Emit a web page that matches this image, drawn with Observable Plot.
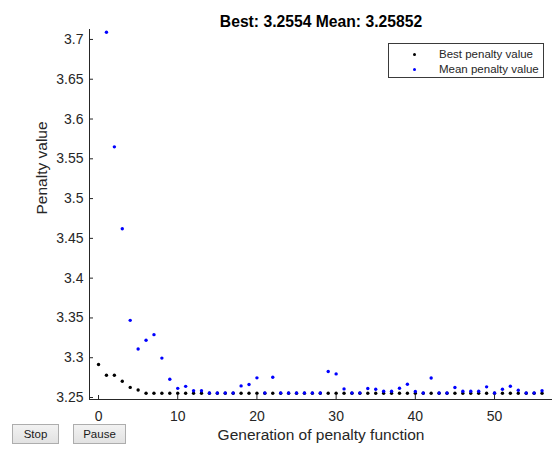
<!DOCTYPE html>
<html>
<head>
<meta charset="utf-8">
<script src="https://cdn.jsdelivr.net/npm/d3@7"></script>
<script src="https://cdn.jsdelivr.net/npm/@observablehq/plot@0.6"></script>
<style>
  html, body { margin: 0; padding: 0; background: #fff; }
  #wrap { position: relative; width: 552px; height: 451px; overflow: hidden;
          font-family: "Liberation Sans", Arial, Helvetica, sans-serif; }
  #wrap svg { position: absolute; left: 0; top: 0; }
  #legend { position: absolute; left: 388px; top: 43px; width: 156px; height: 35px;
            border: 1px solid #3a3a3a; background: #fff; box-sizing: border-box; }
  #legend .row { position: absolute; left: 0; height: 14px; font-size: 11.5px; color: #262626; }
  #legend .mk { position: absolute; left: 24px; width: 3px; height: 3px; border-radius: 50%; }
  #legend .tx { position: absolute; left: 50px; top: 0; white-space: nowrap; line-height: 14px; }
  .btn { position: absolute; top: 424px; height: 20px; box-sizing: border-box;
         border: 1px solid #adadad; background: linear-gradient(#f2f2f2, #e2e2e2);
         font-size: 11.5px; color: #1a1a1a; text-align: center; line-height: 18px; }
</style>
</head>
<body>
<div id="wrap"></div>
<script>
// ---- data ----
const generations = [0,1,2,3,4,5,6,7,8,9,10,11,12,13,14,15,16,17,18,19,20,21,22,23,24,25,26,27,28,29,30,31,32,33,34,35,36,37,38,39,40,41,42,43,44,45,46,47,48,49,50,51,52,53,54,55,56];
const bestValues = [3.2915,3.2779,3.2779,3.2705,3.2627,3.2595,3.2554,3.2554,3.2554,3.2554,
  3.2554,3.2554,3.2554,3.2554,3.2554,3.2554,3.2554,3.2554,3.2554,3.2554,
  3.2554,3.2554,3.2554,3.2554,3.2554,3.2554,3.2554,3.2554,3.2554,3.2554,
  3.2554,3.2554,3.2554,3.2554,3.2554,3.2554,3.2554,3.2554,3.2554,3.2554,
  3.2554,3.2554,3.2554,3.2554,3.2554,3.2554,3.2554,3.2554,3.2554,3.2554,
  3.2554,3.2554,3.2554,3.2554,3.2554,3.2554,3.2554];
// mean value is not shown for generation 0
const meanGenerations = [1,2,3,4,5,6,7,8,9,10,11,12,13,14,15,16,17,18,19,20,21,22,23,24,25,26,27,28,29,30,31,32,33,34,35,36,37,38,39,40,41,42,43,44,45,46,47,48,49,50,51,52,53,54,55,56];
const meanValues = [3.709,3.565,3.462,3.347,3.311,3.322,3.329,3.2995,3.273,3.2615,
  3.2640,3.2585,3.2585,3.2557,3.2557,3.2557,3.2557,3.2646,3.2663,3.2747,
  3.2556,3.2755,3.2558,3.2556,3.2556,3.2556,3.2556,3.2556,3.2826,3.2797,
  3.2608,3.2556,3.2558,3.2613,3.2604,3.2579,3.2579,3.2617,3.2667,3.2575,
  3.2556,3.2746,3.2556,3.2556,3.2625,3.2579,3.2579,3.2579,3.2634,3.2556,
  3.2604,3.2642,3.2592,3.2556,3.2556,3.2585];
const seriesNames = ["Best penalty value", "Mean penalty value"];
const seriesColors = ["#000000", "#0000ff"];
const xTicks = [0, 10, 20, 30, 40, 50];
const xTickLabels = ["0", "10", "20", "30", "40", "50"];
const yTicks = [3.25, 3.3, 3.35, 3.4, 3.45, 3.5, 3.55, 3.6, 3.65, 3.7];
const yTickLabels = ["3.25", "3.3", "3.35", "3.4", "3.45", "3.5", "3.55", "3.6", "3.65", "3.7"];
const xDomain = [-1.14, 57.32];
const yDomain = [3.2475, 3.7125];
const titleText = "Best: 3.2554 Mean: 3.25852";
const xLabel = "Generation of penalty function";
const yLabel = "Penalty value";
const buttonLabels = ["Stop", "Pause"];

// ---- tables ----
const bestData = generations.map((g, i) => ({gen: g, value: bestValues[i]}));
const meanData = meanGenerations.map((g, i) => ({gen: g, value: meanValues[i]}));

const W = 552, H = 451, mL = 89, mR = 0, mT = 29, mB = 52;
const axisColor = "#262626";
const font = '"Liberation Sans", Arial, Helvetica, sans-serif';

const chart = Plot.plot({
  width: W, height: H,
  marginLeft: mL, marginRight: mR, marginTop: mT, marginBottom: mB,
  style: {fontFamily: font, fontSize: "14px", color: axisColor, background: "transparent"},
  x: {domain: xDomain, axis: null},
  y: {domain: yDomain, axis: null},
  marks: [
    Plot.ruleX([xDomain[0]], {stroke: axisColor, strokeWidth: 1}),
    Plot.ruleY([yDomain[0]], {stroke: axisColor, strokeWidth: 1}),
    Plot.tickX(xTicks, {x: d => d, stroke: axisColor, insetTop: (H - mT - mB) - 4}),
    Plot.tickY(yTicks, {y: d => d, stroke: axisColor, insetRight: (W - mL - mR) - 4}),
    Plot.axisX(xTicks, {tickSize: 0, tickPadding: 12, tickFormat: d => xTickLabels[xTicks.indexOf(d)], label: null, fontSize: 14, fill: axisColor}),
    Plot.axisY(yTicks, {tickSize: 0, tickPadding: 6, tickFormat: d => yTickLabels[yTicks.indexOf(d)], label: null, fontSize: 14, fill: axisColor}),
    Plot.dot(bestData, {x: "gen", y: "value", r: 1.7, fill: seriesColors[0], stroke: null}),
    Plot.dot(meanData, {x: "gen", y: "value", r: 1.7, fill: seriesColors[1], stroke: null}),
    Plot.text([titleText], {frameAnchor: "top", dy: -14, fontWeight: "bold", fontSize: 15.7, fill: "#000"}),
    Plot.text([xLabel], {frameAnchor: "bottom", dy: 40, fontSize: 15.5, fill: axisColor}),
    Plot.text([yLabel], {frameAnchor: "left", dx: -47, rotate: -90, fontSize: 15.5, fill: axisColor})
  ]
});

const wrap = document.getElementById("wrap");
wrap.appendChild(chart);

// legend
const legend = document.createElement("div");
legend.id = "legend";
seriesNames.forEach((name, i) => {
  const row = document.createElement("div");
  row.className = "row";
  row.style.top = (3 + i * 15) + "px";
  row.style.width = "100%";
  const mk = document.createElement("span");
  mk.className = "mk";
  mk.style.background = seriesColors[i];
  mk.style.top = "6px";
  const tx = document.createElement("span");
  tx.className = "tx";
  tx.textContent = name;
  row.appendChild(mk);
  row.appendChild(tx);
  legend.appendChild(row);
});
wrap.appendChild(legend);

// buttons
const btnPos = [{left: 12, width: 47}, {left: 73, width: 53}];
buttonLabels.forEach((label, i) => {
  const b = document.createElement("div");
  b.className = "btn";
  b.style.left = btnPos[i].left + "px";
  b.style.width = btnPos[i].width + "px";
  b.textContent = label;
  wrap.appendChild(b);
});
</script>
</body>
</html>
